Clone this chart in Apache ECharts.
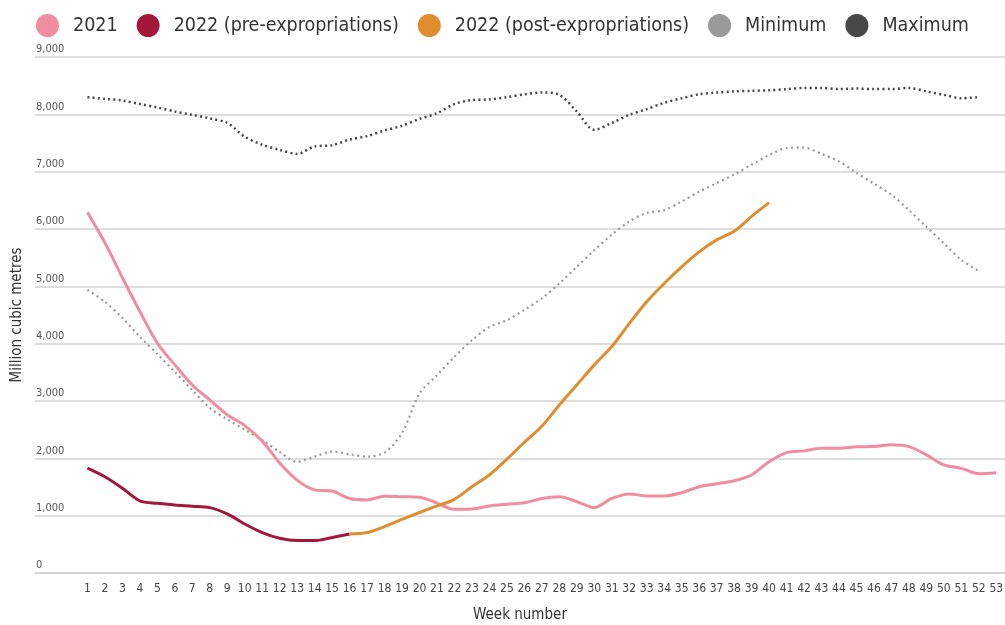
<html lang="en">
<head>
  <meta charset="utf-8"/>
  <script src="https://cdn.jsdelivr.net/npm/echarts@6/dist/echarts.min.js"></script>
  <style>
    html, body { margin: 0; padding: 0; background: #fff; overflow: hidden; }
    #chart { width: 1005px; height: 625px; }
  </style>
</head>
<body>
<div id="chart"></div>
<script>
  // weeks 1..53
  var weeks = [];
  for (var i = 1; i <= 53; i++) weeks.push(i);

  var y2021 = [6290, 5760, 5150, 4560, 4010, 3630, 3280, 3020, 2760, 2570,
               2300, 1920, 1620, 1450, 1430, 1300, 1275, 1340, 1330, 1320,
               1220, 1110, 1115, 1170, 1200, 1225, 1300, 1330, 1245, 1140,
               1300, 1380, 1345, 1345, 1400, 1505, 1555, 1610, 1710, 1940,
               2100, 2130, 2175, 2175, 2200, 2205, 2235, 2205, 2060, 1885,
               1825, 1730, 1750];

  // weeks 1..16
  var y2022Pre = [1830, 1680, 1480, 1260, 1215, 1185, 1165, 1140, 1030, 855,
                  705, 605, 565, 565, 620, 680];

  // weeks 16..40
  var postStartWeek = 16;
  var y2022Post = [680, 705, 810, 935, 1055, 1170, 1285, 1505, 1710, 1985,
                   2280, 2560, 2930, 3280, 3630, 3950, 4350, 4730, 5050, 5340,
                   5600, 5810, 5960, 6220, 6460];

  // weeks 1..52
  var minimum = [4940, 4730, 4450, 4120, 3820, 3510, 3190, 2880, 2680, 2500,
                 2320, 2110, 1940, 2030, 2120, 2070, 2030, 2100, 2440, 3130,
                 3450, 3770, 4060, 4290, 4410, 4590, 4790, 5050, 5340, 5630,
                 5900, 6130, 6280, 6330, 6480, 6650, 6800, 6950, 7120, 7290,
                 7410, 7420, 7310, 7180, 6980, 6790, 6600, 6330, 6040, 5750,
                 5460, 5270];

  var maximum = [8300, 8270, 8240, 8180, 8120, 8050, 7990, 7930, 7850, 7610,
                 7470, 7380, 7310, 7440, 7460, 7560, 7620, 7720, 7800, 7920,
                 8020, 8180, 8250, 8260, 8300, 8350, 8380, 8340, 8050, 7730,
                 7850, 7990, 8090, 8200, 8280, 8350, 8380, 8400, 8410, 8420,
                 8440, 8460, 8460, 8440, 8450, 8440, 8440, 8460, 8400, 8340,
                 8280, 8300];

  var yTicks = [0, 1000, 2000, 3000, 4000, 5000, 6000, 7000, 8000, 9000];

  function pairs(vals, start) {
    return vals.map(function (v, k) { return [weeks[start - 1 + k], v]; });
  }

  var font = '"Liberation Sans Narrow", "DejaVu Sans Condensed", "Roboto", sans-serif';
  var cPink = '#f08da1', cRed = '#a3173b', cOrange = '#e08d2d', cMin = '#9a9a9a', cMax = '#474747';

  var chart = echarts.init(document.getElementById('chart'), null, { renderer: 'canvas' });
  chart.setOption({
    animation: false,
    backgroundColor: '#fff',
    textStyle: { fontFamily: font },
    legend: {
      left: 31,
      top: 9,
      itemWidth: 23,
      itemHeight: 23,
      itemGap: 19,
      icon: 'circle',
      textStyle: { fontFamily: font, fontSize: 19.5, color: '#333', padding: [0, 0, 0, 9] },
      data: ['2021', '2022 (pre-expropriations)', '2022 (post-expropriations)', 'Minimum', 'Maximum']
    },
    grid: { left: 35, right: 0, top: 57, bottom: 52, containLabel: false, outerBoundsMode: 'none' },
    xAxis: {
      type: 'value',
      min: -2,
      max: 53.5,
      interval: 1,
      name: 'Week number',
      nameLocation: 'middle',
      nameGap: 35,
      nameTextStyle: { fontFamily: font, fontSize: 15, color: '#333' },
      axisLine: { show: true, lineStyle: { color: '#d3d3d3', width: 1.5 } },
      axisTick: { show: false },
      splitLine: { show: false },
      axisLabel: {
        fontFamily: font,
        fontSize: 12,
        color: '#444',
        margin: 10,
        showMinLabel: true,
        showMaxLabel: true,
        formatter: function (v) {
          return (v >= 1 && v <= 53 && Math.round(v) === v) ? String(v) : '';
        }
      }
    },
    yAxis: {
      type: 'value',
      min: yTicks[0],
      max: yTicks[yTicks.length - 1],
      interval: 1000,
      name: 'Million cubic metres',
      nameLocation: 'middle',
      nameGap: 5,
      nameTextStyle: { fontFamily: font, fontSize: 15, color: '#333' },
      axisLine: { show: false },
      axisTick: { show: false },
      splitLine: { lineStyle: { color: '#d3d3d3', width: 1.5 } },
      axisLabel: {
        inside: true,
        margin: 1,
        verticalAlign: 'bottom',
        padding: [0, 0, 2, 0],
        fontFamily: font,
        fontSize: 11,
        color: '#555',
        formatter: function (v) { return v.toLocaleString('en-US'); }
      }
    },
    series: [
      {
        name: 'Maximum', type: 'line', showSymbol: false, smooth: 0.3, z: 2,
        data: pairs(maximum, 1),
        itemStyle: { color: cMax },
        lineStyle: { color: cMax, width: 2.5, type: [2, 3.2] }
      },
      {
        name: 'Minimum', type: 'line', showSymbol: false, smooth: 0.3, z: 2,
        data: pairs(minimum, 1),
        itemStyle: { color: cMin },
        lineStyle: { color: cMin, width: 2.2, type: [2, 3.5] }
      },
      {
        name: '2021', type: 'line', showSymbol: false, smooth: 0.3, z: 3,
        data: pairs(y2021, 1),
        itemStyle: { color: cPink },
        lineStyle: { color: cPink, width: 3 }
      },
      {
        name: '2022 (pre-expropriations)', type: 'line', showSymbol: false, smooth: 0.3, z: 4,
        data: pairs(y2022Pre, 1),
        itemStyle: { color: cRed },
        lineStyle: { color: cRed, width: 3 }
      },
      {
        name: '2022 (post-expropriations)', type: 'line', showSymbol: false, smooth: 0.3, z: 4,
        data: pairs(y2022Post, postStartWeek),
        itemStyle: { color: cOrange },
        lineStyle: { color: cOrange, width: 3 }
      }
    ]
  });
</script>
</body>
</html>
